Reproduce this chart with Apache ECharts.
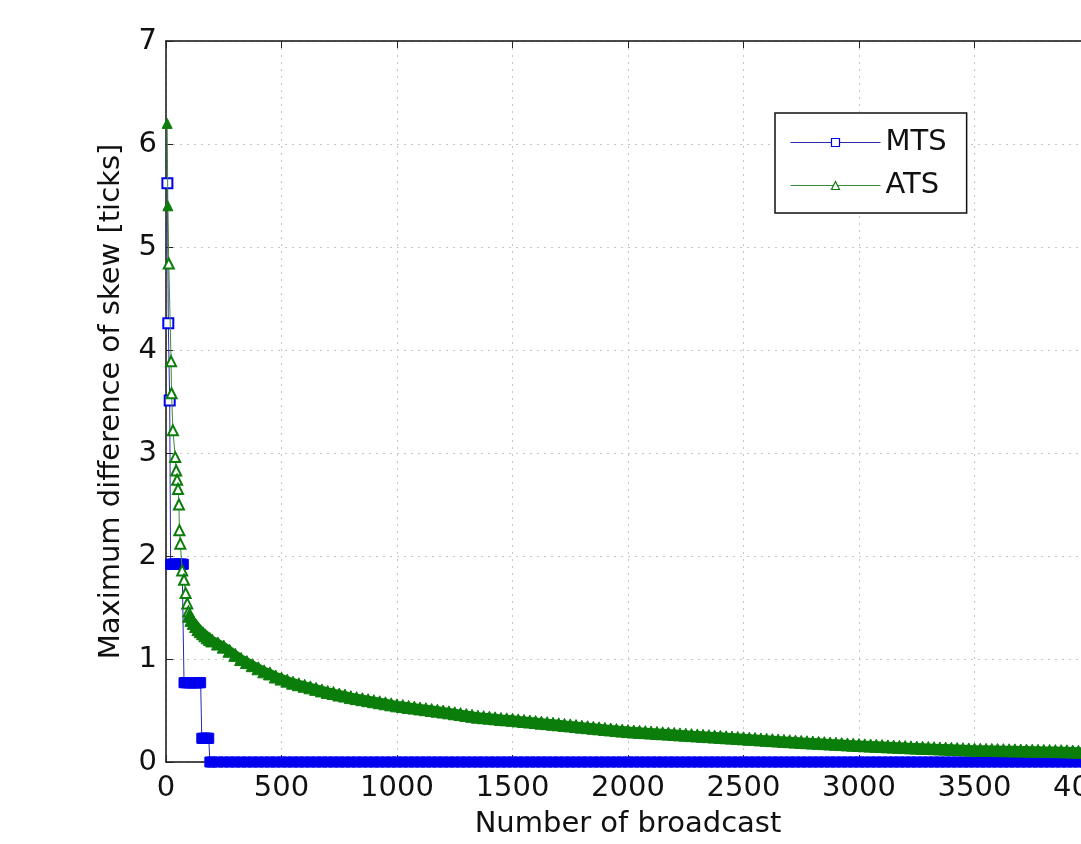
<!DOCTYPE html>
<html>
<head>
<meta charset="utf-8">
<title>Maximum difference of skew</title>
<script src="https://cdn.jsdelivr.net/npm/echarts@6/dist/echarts.min.js"></script>
<style>
html, body { margin: 0; padding: 0; background: #fff; }
#chart { width: 1081px; height: 844px; }
</style>
</head>
<body>
<div id="chart"></div>
<script>
// 前段（稀疏的点，手动读取）
var mtsEarlyX = [6, 10, 16,
	20, 25, 30, 35, 40, 45, 50, 55, 60, 65, 70, 75,
	78, 85, 90, 95, 100, 105, 110, 115, 120, 125, 130, 135, 140, 145, 150,
	155, 160, 165, 170, 175, 180, 185,
	190];
var mtsEarlyY = [5.62, 4.26, 3.51,
	1.92, 1.92, 1.92, 1.92, 1.92, 1.92, 1.92, 1.92, 1.92, 1.92, 1.92, 1.92,
	0.77, 0.77, 0.77, 0.77, 0.77, 0.77, 0.77, 0.77, 0.77, 0.77, 0.77, 0.77, 0.77, 0.77, 0.77,
	0.23, 0.23, 0.23, 0.23, 0.23, 0.23, 0.23,
	0];

var atsEarlyX = [5, 8, 12, 22, 24, 30, 40, 44, 48, 52, 56, 58, 62, 70, 78, 85, 92, 97,
	100, 110, 120, 130, 140, 150, 160, 170, 180, 190];
var atsEarlyY = [6.2, 5.4, 4.84, 3.89, 3.58, 3.22, 2.96, 2.83, 2.74, 2.65, 2.5, 2.25, 2.12, 1.86, 1.77, 1.64, 1.54, 1.46,
	1.42, 1.38, 1.35, 1.32, 1.29, 1.27, 1.25, 1.23, 1.21, 1.195];

// 后段：每25次广播取一个点 (200 ~ 4000)
var tailX = [];
for (var b = 200; b <= 4000; b += 25) tailX.push(b);

var atsTail = [
	1.18, 1.15, 1.12, 1.08, 1.04, 1.00, 0.97, 0.94,
	0.91, 0.88, 0.86, 0.83, 0.81, 0.79, 0.77, 0.755,
	0.74, 0.725, 0.71, 0.695, 0.68, 0.67, 0.655, 0.645,
	0.63, 0.62, 0.61, 0.60, 0.59, 0.58, 0.57, 0.56,
	0.55, 0.543, 0.535, 0.528, 0.52, 0.513, 0.505, 0.498,
	0.49, 0.482, 0.473, 0.465, 0.457, 0.448, 0.44, 0.435,
	0.43, 0.424, 0.418, 0.414, 0.41, 0.404, 0.398, 0.393,
	0.388, 0.382, 0.377, 0.371, 0.366, 0.36, 0.355, 0.349,
	0.343, 0.338, 0.332, 0.327, 0.321, 0.316, 0.31, 0.305,
	0.30, 0.296, 0.293, 0.29, 0.286, 0.282, 0.279, 0.276,
	0.272, 0.268, 0.265, 0.261, 0.258, 0.254, 0.251, 0.247,
	0.244, 0.24, 0.237, 0.233, 0.23, 0.226, 0.223, 0.219,
	0.216, 0.212, 0.209, 0.205, 0.202, 0.198, 0.195, 0.192,
	0.189, 0.186, 0.183, 0.18, 0.177, 0.174, 0.171, 0.168,
	0.165, 0.162, 0.16, 0.157, 0.155, 0.152, 0.15, 0.147,
	0.145, 0.142, 0.14, 0.138, 0.136, 0.134, 0.132, 0.13,
	0.128, 0.126, 0.124, 0.122, 0.12, 0.119, 0.118, 0.117,
	0.116, 0.115, 0.114, 0.113, 0.112, 0.111, 0.11, 0.109,
	0.108, 0.107, 0.106, 0.105, 0.104, 0.102, 0.1, 0.098,
	0.096
];
var mtsTail = [
	0, 0, 0, 0, 0, 0, 0, 0,
	0, 0, 0, 0, 0, 0, 0, 0,
	0, 0, 0, 0, 0, 0, 0, 0,
	0, 0, 0, 0, 0, 0, 0, 0,
	0, 0, 0, 0, 0, 0, 0, 0,
	0, 0, 0, 0, 0, 0, 0, 0,
	0, 0, 0, 0, 0, 0, 0, 0,
	0, 0, 0, 0, 0, 0, 0, 0,
	0, 0, 0, 0, 0, 0, 0, 0,
	0, 0, 0, 0, 0, 0, 0, 0,
	0, 0, 0, 0, 0, 0, 0, 0,
	0, 0, 0, 0, 0, 0, 0, 0,
	0, 0, 0, 0, 0, 0, 0, 0,
	0, 0, 0, 0, 0, 0, 0, 0,
	0, 0, 0, 0, 0, 0, 0, 0,
	0, 0, 0, 0, 0, 0, 0, 0,
	0, 0, 0, 0, 0, 0, 0, 0,
	0, 0, 0, 0, 0, 0, 0, 0,
	0, 0, 0, 0, 0, 0, 0, 0,
	0
];

var FONT = 'DejaVu Sans';
var FONT_SIZE = 29;
var MTS_COLOR = '#0000ee';
var ATS_COLOR = '#0b7d0b';

// 把x、y拼成点；前面稀疏的点用空心标记
function buildPoints(xs, ys, hollowFrom, hollowTo) {
	return xs.map(function (x, i) {
		var p = { value: [x, ys[i]] };
		if (x >= hollowFrom && x < hollowTo) p.itemStyle = { color: '#fff', borderWidth: 2 };
		return p;
	});
}

var mtsData = buildPoints(mtsEarlyX.concat(tailX), mtsEarlyY.concat(mtsTail), 0, 17);
var atsX = atsEarlyX.concat(tailX);
var atsY = atsEarlyY.concat(atsTail);
var atsData = buildPoints(atsX, atsY, 10, 98);
// 密集段（>=100）标记重叠成一条粗带
var atsBand = atsX.map(function (x, i) { return [x, atsY[i]]; })
	.filter(function (p) { return p[0] >= 100; });

var gridLine = { show: true, lineStyle: { color: '#c6c6c6', width: 1, type: [2, 5] } };
var tick = { show: true, inside: true, length: 7, lineStyle: { color: '#222', width: 1 } };
var textStyle = { fontFamily: FONT, fontSize: FONT_SIZE, color: '#111' };
function plain(v) { return String(v); }

var chart = echarts.init(document.getElementById('chart'));
chart.setOption({
	animation: false,
	backgroundColor: '#fff',
	grid: { left: 166, top: 41, right: -9, bottom: 82, containLabel: false, outerBoundsMode: 'none' },
	legend: {
		orient: 'vertical',
		left: 775,
		top: 113,
		padding: [15, 20, 13, 15],
		itemGap: 14,
		itemWidth: 90,
		itemHeight: 10,
		backgroundColor: '#fff',
		borderColor: '#111',
		borderWidth: 1.5,
		borderRadius: 0,
		textStyle: textStyle,
		itemStyle: { color: '#fff', borderWidth: 1.2 },
		lineStyle: { width: 1 },
		data: ['MTS', 'ATS']
	},
	xAxis: [{
		type: 'value',
		min: 0,
		max: 4000,
		interval: 500,
		position: 'bottom',
		name: 'Number of broadcast',
		nameLocation: 'middle',
		nameGap: 48,
		nameTextStyle: textStyle,
		axisLine: { show: true, lineStyle: { color: '#111', width: 1.5 } },
		axisTick: tick,
		axisLabel: { fontFamily: FONT, fontSize: FONT_SIZE, color: '#111', margin: 12, formatter: plain },
		splitLine: gridLine
	}, {
		type: 'value',
		min: 0,
		max: 4000,
		interval: 500,
		position: 'top',
		axisLine: { show: true, lineStyle: { color: '#111', width: 1.5 } },
		axisTick: tick,
		axisLabel: { show: false },
		splitLine: { show: false }
	}],
	yAxis: {
		type: 'value',
		min: 0,
		max: 7,
		interval: 1,
		name: 'Maximum difference of skew [ticks]',
		nameLocation: 'middle',
		nameGap: 40,
		nameTextStyle: textStyle,
		axisLine: { show: true, lineStyle: { color: '#111', width: 1.5 } },
		axisTick: tick,
		axisLabel: { fontFamily: FONT, fontSize: FONT_SIZE, color: '#111', margin: 9, formatter: plain },
		splitLine: gridLine
	},
	series: [{
		name: 'MTS',
		type: 'line',
		z: 3,
		silent: true,
		clip: false,
		showAllSymbol: true,
		symbol: 'rect',
		symbolSize: 10,
		data: mtsData,
		lineStyle: { color: '#2a2aa8', width: 1 },
		itemStyle: { color: MTS_COLOR, borderColor: MTS_COLOR, borderWidth: 1 }
	}, {
		name: 'ATS',
		type: 'line',
		z: 4,
		silent: true,
		clip: false,
		showAllSymbol: true,
		symbol: 'triangle',
		symbolSize: function (v) { return v[0] < 98 ? 10 : 13; },
		data: atsData,
		lineStyle: { color: '#3b8a3b', width: 1 },
		itemStyle: { color: ATS_COLOR, borderColor: ATS_COLOR, borderWidth: 1 }
	}, {
		name: 'ATS',
		type: 'line',
		z: 3,
		silent: true,
		clip: false,
		symbol: 'none',
		data: atsBand,
		lineStyle: { color: ATS_COLOR, width: 9, cap: 'round', join: 'round' }
	}]
});
</script>
</body>
</html>
